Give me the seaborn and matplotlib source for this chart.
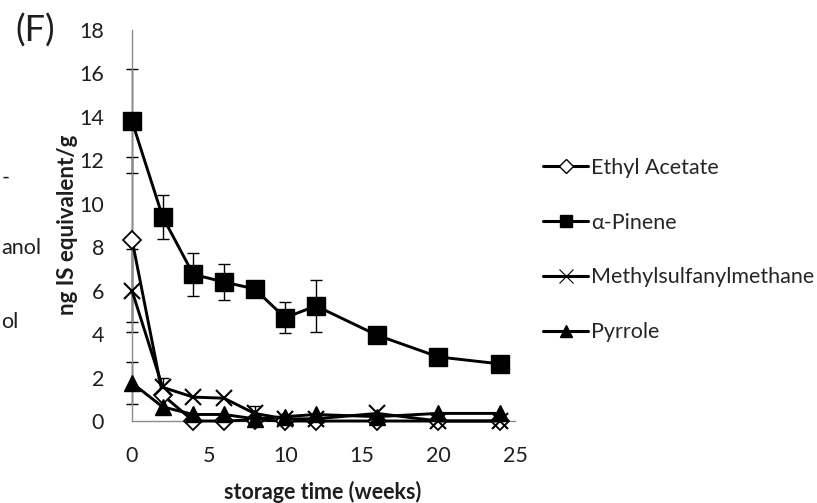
import numpy as np
import pandas as pd
import matplotlib
matplotlib.use("Agg")
import matplotlib.pyplot as plt
from matplotlib.lines import Line2D
import seaborn as sns

weeks = [0, 2, 4, 6, 8, 10, 12, 16, 20, 24]
ethyl_acetate = [8.35, 1.2, 0.0, 0.0, 0.05, 0.0, 0.0, 0.0, 0.0, 0.0]
ethyl_acetate_err = [3.8, 0.0, 0.0, 0.0, 0.0, 0.0, 0.0, 0.0, 0.0, 0.0]
alpha_pinene = [13.8, 9.4, 6.75, 6.4, 6.08, 4.75, 5.3, 3.95, 2.95, 2.63]
alpha_pinene_err = [2.4, 1.0, 1.0, 0.85, 0.0, 0.72, 1.2, 0.3, 0.0, 0.0]
methylsulfanylmethane = [6.0, 1.55, 1.1, 1.05, 0.35, 0.1, 0.1, 0.35, 0.0, 0.0]
methylsulfanylmethane_err = [1.9, 0.45, 0.0, 0.0, 0.35, 0.0, 0.0, 0.0, 0.0, 0.0]
pyrrole = [1.75, 0.65, 0.3, 0.3, 0.1, 0.2, 0.3, 0.2, 0.35, 0.35]
pyrrole_err = [0.95, 0.0, 0.0, 0.0, 0.0, 0.0, 0.0, 0.0, 0.0, 0.0]

series_names = ["Ethyl Acetate", "\u03b1-Pinene", "Methylsulfanylmethane", "Pyrrole"]
x_ticks = [0, 5, 10, 15, 20, 25]
y_ticks = [0, 2, 4, 6, 8, 10, 12, 14, 16, 18]

sns.set_theme(style="white")
plt.rcParams["font.family"] = ["Lato", "DejaVu Sans"]

fig = plt.figure(figsize=(8.17, 5.03), dpi=100)
ax = fig.add_axes([132 / 817, 1 - 421 / 503, (515 - 132) / 817, (421 - 30) / 503])

values = [ethyl_acetate, alpha_pinene, methylsulfanylmethane, pyrrole]
errors = [ethyl_acetate_err, alpha_pinene_err, methylsulfanylmethane_err, pyrrole_err]
styles = [
    dict(marker="D", markersize=9.5, markerfacecolor="white", markeredgecolor="black", markeredgewidth=1.3),
    dict(marker="s", markersize=12.5, markerfacecolor="black", markeredgecolor="black", markeredgewidth=1.0),
    dict(marker="x", markersize=11, markeredgecolor="black", markeredgewidth=1.5),
    dict(marker="^", markersize=11.5, markerfacecolor="black", markeredgecolor="black", markeredgewidth=1.0),
]

frames = []
for name, vals, errs in zip(series_names, values, errors):
    frames.append(pd.DataFrame({"weeks": weeks, "value": vals, "err": errs, "compound": name}))
df = pd.concat(frames, ignore_index=True)

for name in series_names:
    d = df[df["compound"] == name]
    m = d["err"] > 0
    ax.errorbar(d["weeks"][m], d["value"][m], yerr=d["err"][m], fmt="none",
                ecolor="black", elinewidth=1.0, capsize=4.5, capthick=1.0, zorder=2,
                clip_on=False)

order_draw = [2, 0, 3, 1]
for i in order_draw:
    name = series_names[i]
    d = df[df["compound"] == name]
    sns.lineplot(data=d, x="weeks", y="value", ax=ax, color="black", linewidth=2.1,
                 clip_on=False, zorder=3 + i, legend=False, errorbar=None, **styles[i])

TXT = "#1e1e1e"
ax.set_xlim(0, 25)
ax.set_ylim(0, 18)
ax.set_xticks(x_ticks)
ax.set_yticks(y_ticks)
ax.set_xticklabels([str(t) for t in x_ticks], fontsize=15.5, color=TXT)
ax.set_yticklabels([str(t) for t in y_ticks], fontsize=15.5, color=TXT)
ax.tick_params(axis="both", length=0)
ax.tick_params(axis="x", pad=18)
ax.tick_params(axis="y", pad=20)
for s in ["top", "right"]:
    ax.spines[s].set_visible(False)
for s in ["left", "bottom"]:
    ax.spines[s].set_color("#8c8c8c")
    ax.spines[s].set_linewidth(1.0)
ax.set_xlabel("")
ax.set_ylabel("")
ax.grid(False)

fig.text(323 / 817, 1 - 492 / 503, "storage time (weeks)", fontsize=15.5, fontweight="bold",
         ha="center", va="center", color=TXT)
fig.text(68 / 817, 1 - 225 / 503, "ng IS equivalent/g", fontsize=16, fontweight="bold",
         ha="center", va="center", rotation=90, color=TXT)
fig.text(35 / 817, 1 - 31 / 503, "(F)", fontsize=26, ha="center", va="center", color=TXT)

# fragments of the neighbouring panel's legend
fig.text(2 / 817, 1 - 178 / 503, "-", fontsize=15.5, ha="left", va="center", color=TXT)
fig.text(1 / 817, 1 - 248 / 503, "anol", fontsize=15.5, ha="left", va="center", color=TXT)
fig.text(1 / 817, 1 - 322 / 503, "ol", fontsize=15.5, ha="left", va="center", color=TXT)

leg_styles = [
    dict(marker="D", markersize=7, markerfacecolor="white", markeredgecolor="black", markeredgewidth=1.0),
    dict(marker="s", markersize=9, markerfacecolor="black", markeredgecolor="black"),
    dict(marker="x", markersize=10, markeredgecolor="black", markeredgewidth=0.8),
    dict(marker="^", markersize=9, markerfacecolor="black", markeredgecolor="black"),
]
handles = [Line2D([0], [0], color="black", linewidth=2.2, **st) for st in leg_styles]
fig.legend(handles, series_names, loc="center left", bbox_to_anchor=(543 / 817, 1 - 250 / 503),
           frameon=False, fontsize=15.5, handlelength=2.1, handletextpad=0.12,
           labelspacing=1.62, borderpad=0, borderaxespad=0)

fig.savefig("out.png", dpi=100)
